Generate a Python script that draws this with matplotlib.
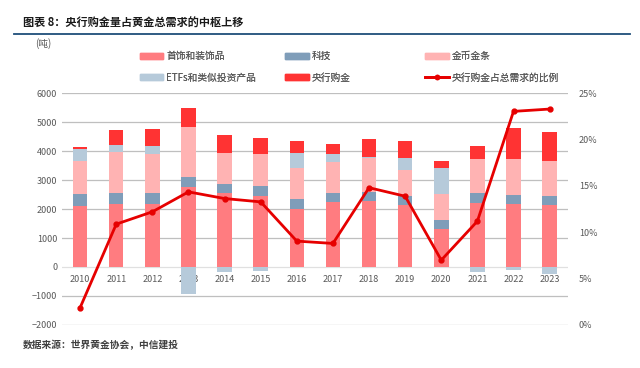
import numpy as np
import matplotlib.pyplot as plt
from matplotlib.lines import Line2D

plt.rcParams["font.family"] = ["Noto Sans CJK SC", "DejaVu Sans"]

years = [str(y) for y in range(2010, 2024)]
jewelry = [2108, 2176, 2176, 2749, 2543, 2463, 2005, 2257, 2280, 2131, 1317, 2199, 2176, 2142]
tech = [401, 390, 390, 344, 321, 332, 332, 309, 320, 320, 310, 344, 310, 309]
bar_coin = [1145, 1409, 1329, 1741, 1076, 1100, 1065, 1065, 1146, 894, 893, 1180, 1225, 1203]
etf = [401, 217, 275, -928, -172, -126, 538, 264, 34, 401, 882, -183, -92, -229]
central_bank = [92, 527, 584, 641, 608, 572, 401, 366, 653, 595, 264, 458, 1089, 1008]
cb_share = [1.87, 10.87, 12.2, 14.35, 13.63, 13.27, 9.04, 8.79, 14.8, 13.88, 6.99, 11.19, 23.03, 23.28]

c_jew = "#FF7C80"
c_tech = "#7F9DB9"
c_coin = "#FFB3B3"
c_etf = "#B6CADA"
c_cb = "#FF3333"
c_line = "#E60000"

fig = plt.figure(figsize=(6.4, 3.68), dpi=100)
ax = fig.add_axes([0.097, 0.117, 0.79, 0.63])
x = np.arange(len(years))
w = 0.4

jew = np.array(jewelry)
te = np.array(tech)
co = np.array(bar_coin)
et = np.array(etf)
cb = np.array(central_bank)

ax.bar(x, jew, w, color=c_jew, zorder=2)
ax.bar(x, te, w, bottom=jew, color=c_tech, zorder=2)
ax.bar(x, co, w, bottom=jew + te, color=c_coin, zorder=2)
pos_etf = np.where(et > 0, et, 0)
neg_etf = np.where(et < 0, et, 0)
ax.bar(x, pos_etf, w, bottom=jew + te + co, color=c_etf, zorder=2)
ax.bar(x, neg_etf, w, color=c_etf, zorder=2)
ax.bar(x, cb, w, bottom=jew + te + co + pos_etf, color=c_cb, zorder=2)

ax.set_xlim(-0.5, len(years) - 0.5)
ax.set_ylim(-2000, 6000)
ax.set_yticks(range(-2000, 6001, 1000))
for v in range(-2000, 6001, 1000):
    ax.axhline(v, color="#E0E0E0" if v == 0 else "#BFBFBF", lw=0.9, zorder=1)
ax.set_xticks(x)
ax.set_xticklabels(years)
ax.spines["bottom"].set_position(("data", 0))
for s in ax.spines.values():
    s.set_visible(False)
ax.tick_params(length=0, labelsize=6.5, colors="#595959")
ax.tick_params(axis="x", pad=6)

ax2 = ax.twinx()
ax2.plot(x, cb_share, color=c_line, lw=2, marker="o", ms=3.5, zorder=3)
ax2.set_ylim(0, 25)
ax2.set_yticks(range(0, 26, 5))
ax2.set_yticklabels([f"{v}%" for v in range(0, 26, 5)])
for s in ax2.spines.values():
    s.set_visible(False)
ax2.tick_params(length=0, labelsize=6.5, colors="#595959", pad=8)


def patch(c):
    return plt.Rectangle((0, 0), 1, 1, color=c)


# legend: one small legend per column so the columns sit where the original has them
columns = [
    ([patch(c_jew), patch(c_etf)], ["首饰和装饰品", "ETFs和类似投资产品"], 0.205),
    ([patch(c_tech), patch(c_cb)], ["科技", "央行购金"], 0.432),
    ([patch(c_coin), Line2D([0], [0], color=c_line, lw=2, marker="o", ms=3)],
     ["金币金条", "央行购金占总需求的比例"], 0.651),
]
for h, l, x0 in columns:
    leg = fig.legend(h, l, loc="upper left", bbox_to_anchor=(x0, 0.885),
                     frameon=False, fontsize=7, labelcolor="#595959", handlelength=2.4,
                     handleheight=0.6, handletextpad=0.3, labelspacing=1.2)
    fig.add_artist(leg)

fig.text(0.055, 0.872, "(吨)", fontsize=7, color="#595959")
fig.text(0.036, 0.937, "图表 8：央行购金量占黄金总需求的中枢上移", fontsize=8,
         fontweight="bold", color="#1a1a1a", va="center")
fig.add_artist(Line2D([0.022, 0.985], [0.908, 0.908], color="#1F4E79", lw=1.3))
fig.text(0.036, 0.062, "数据来源：世界黄金协会，中信建投", fontsize=7, color="#404040",
         style="italic", fontweight="bold", va="center")

fig.savefig("out.png", dpi=100)
